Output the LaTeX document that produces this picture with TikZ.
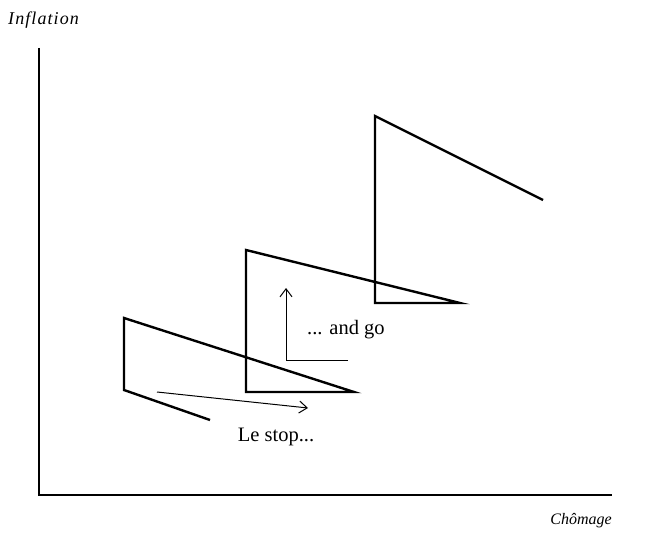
\documentclass[tikz,border=0pt]{standalone}
\usepackage{fontspec}
\setmainfont{Liberation Serif}
\usetikzlibrary{arrows.meta}
\begin{document}
\begin{tikzpicture}[x=1pt,y=-1pt,
  axis/.style={line width=1.3pt},
  curve/.style={line width=2.4pt,line join=miter},
  move/.style={line width=1pt,-{Straight Barb[length=8pt,width=12pt,line width=1pt]}},
  lbl/.style={font=\fontsize{20.5}{24}\selectfont,inner sep=0pt},
  axlbl/.style={font=\itshape\fontsize{16}{19}\selectfont,inner sep=0pt}]
\useasboundingbox (0,0) rectangle (657,535);
% axes
\coordinate (top) at (39,48);
\coordinate (origin) at (39,495);
\coordinate (right) at (612,495);
\draw[axis] (top) -- (origin) -- (right);
\node[axlbl,anchor=west,font=\itshape\fontsize{18}{21}\selectfont\addfontfeature{LetterSpace=6}] (inflation) at (8,20) {Inflation};
\node[axlbl,anchor=east] (chomage) at (612,521) {Chômage};
% zigzag
\coordinate (a0) at (210,420);
\coordinate (a1) at (124,390);
\coordinate (a2) at (124,318);
\coordinate (a3) at (354,392);
\coordinate (b1) at (246,392);
\coordinate (b2) at (246,250);
\coordinate (b3) at (460,303);
\coordinate (c1) at (375,303);
\coordinate (c2) at (375,116);
\coordinate (c3) at (543,200);
\draw[curve] (a0) -- (a1) -- (a2) -- (a3) -- (b1) -- (b2) -- (b3) -- (c1) -- (c2) -- (c3);
% arrows
\coordinate (s0) at (157,392);
\coordinate (s1) at (308,408);
\draw[move] (s0) -- (s1);
\node[lbl] (stop) at (276,437) {Le stop...};
\coordinate (g0) at (348,360);
\coordinate (g1) at (286,360);
\coordinate (g2) at (286,288);
\draw[move] (g0) -- (g1) -- (g2);
\node[lbl,anchor=west] (go) at (307,330) {... and go};
\end{tikzpicture}
\end{document}
